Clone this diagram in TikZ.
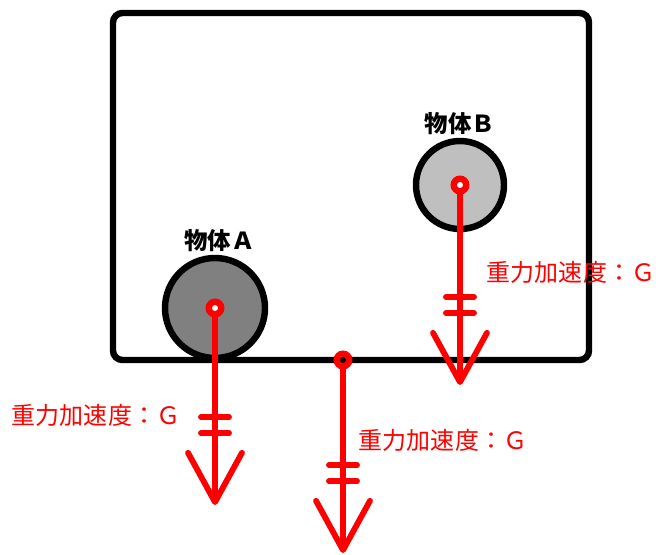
\documentclass[tikz,border=0pt]{standalone}
\usepackage{fontspec}
\newfontfamily\cjk{Noto Sans CJK JP}
\usepackage{tikz}
\usetikzlibrary{positioning, arrows.meta}
\tikzset{font={\cjk\fontsize{20.5pt}{24}\selectfont}}

\begin{document}
\begin{tikzpicture}[
  x=0.03cm, y=-0.03cm,
  frame/.style={draw, line width=5.5pt, rounded corners=8pt},
  body/.style={circle, draw, line width=5.5pt, inner sep=0pt},
  bodylabel/.style={inner sep=0pt, font={\cjk\bfseries\fontsize{20pt}{24}\selectfont}},
  dot/.style={circle, draw=red, line width=5.5pt, fill=white, minimum size=0.375cm, inner sep=0pt},
  force/.style={red, line width=5pt, -{Straight Barb[length=42pt, width=46pt, round]}},
  bar/.style={red, line width=5pt, line cap=round},
  glabel/.style={red, inner sep=0pt}
]
\useasboundingbox (0,0) rectangle (662,555);
% box and the two bodies
\draw[frame] (113,13) rectangle (589,360);
\node[body, fill=gray, minimum size=3cm] (cA) at (215,308) {};
\node[body, fill=gray!50, minimum size=2.64cm] (cB) at (460,185) {};
\node[bodylabel, above=2pt of cA, xshift=4pt] (nA) {物体Ａ};
\node[bodylabel, above=2pt of cB] (nB) {物体Ｂ};
% points of action
\node[dot] (dA) at (cA.center) {};
\node[dot] (dB) at (cB.center) {};
\node[dot, fill=black] (dM) at (343,360) {};
\coordinate (tA) at (215,505);
\coordinate (tM) at (343,553);
\coordinate (tB) at (460,385);
\draw[force] (dA) -- (tA);
\draw[force] (dM) -- (tM);
\draw[force] (dB) -- (tB);
\foreach \t in {tA,tM,tB}
  \foreach \d in {88,72}
    \draw[bar] ([shift={(-14,-\d)}]\t) -- ([shift={(14,-\d)}]\t);
\node[glabel] (gA) at (96,415) {重力加速度：Ｇ};
\node[glabel] (gM) at (443,440) {重力加速度：Ｇ};
\node[glabel] (gB) at (571,272) {重力加速度：Ｇ};
\end{tikzpicture}
\end{document}
